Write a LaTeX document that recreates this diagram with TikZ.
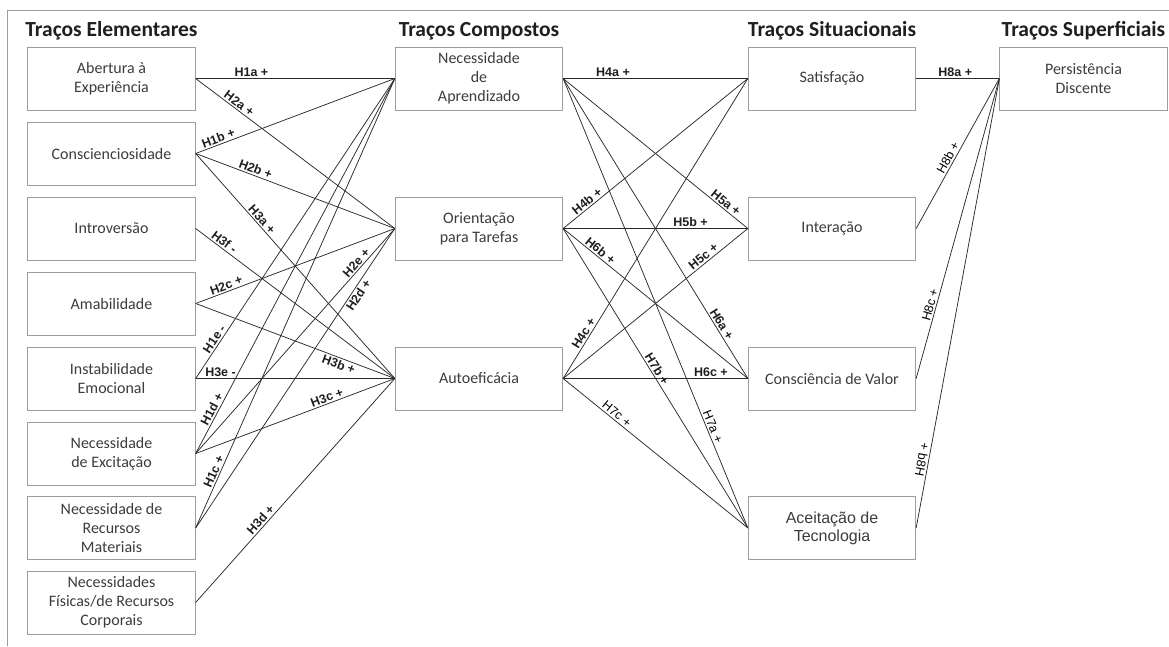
\documentclass[tikz,border=0pt]{standalone}
\usepackage{fontspec}
\setmainfont{Carlito}
\newfontfamily\arialfont{Liberation Sans}
\definecolor{boxgray}{HTML}{9C9C9C}
\definecolor{txtgray}{HTML}{3C3C3C}
\definecolor{linegray}{HTML}{2A2A2A}

\begin{document}
\begin{tikzpicture}[x=1pt, y=-1pt,
	trait/.style={draw=boxgray, line width=0.8pt, minimum width=167.5pt, minimum height=63pt,
		inner sep=2pt, align=center, text=txtgray, font=\fontsize{16}{19}\selectfont},
	head/.style={anchor=base, text=black!88, font=\fontsize{21.5}{25}\selectfont\bfseries},
	link/.style={draw=linegray, line width=0.75pt},
	hl/.style={sloped, above, inner sep=1.5pt, text=black!88,
		font=\arialfont\fontsize{12.5}{14}\selectfont\bfseries},
	hlr/.style={hl, text=black, font=\arialfont\fontsize{12.5}{14}\selectfont}]
	\useasboundingbox (0,0) rectangle (1169,646);

	%边框
	\draw[boxgray, line width=0.8pt] (7,646) -- (7,10) -- (1169,10);

	%标题
	\node[head] (t1) at (111.5,36) {Traços Elementares};
	\node[head] (t2) at (479,36) {Traços Compostos};
	\node[head] (t3) at (832,36) {Traços Situacionais};
	\node[head] (t4) at (1083.5,36) {Traços Superficiais};

	%第一列
	\node[trait] (e1) at (111.5,78.5) {Abertura à\\Experiência};
	\node[trait] (e2) at (111.5,153.5) {Conscienciosidade};
	\node[trait] (e3) at (111.5,228.5) {Introversão};
	\node[trait] (e4) at (111.5,303.5) {Amabilidade};
	\node[trait] (e5) at (111.5,378.5) {Instabilidade\\Emocional};
	\node[trait] (e6) at (111.5,453.5) {Necessidade\\de Excitação};
	\node[trait] (e7) at (111.5,528) {Necessidade de\\Recursos\\Materiais};
	\node[trait] (e8) at (111.5,602.5) {Necessidades\\Físicas/de Recursos\\Corporais};

	%第二列
	\node[trait] (c1) at (479,78.5) {Necessidade\\de\\Aprendizado};
	\node[trait] (c2) at (479,228.5) {Orientação\\para Tarefas};
	\node[trait] (c3) at (479,378.5) {Autoeficácia};

	%第三列
	\node[trait] (s1) at (832,78.5) {Satisfação};
	\node[trait] (s2) at (832,228.5) {Interação};
	\node[trait] (s3) at (832,378.5) {Consciência de Valor};
	\node[trait, font=\arialfont\fontsize{16}{18}\selectfont] (s4) at (832,528) {Aceitação de\\Tecnologia};

	%第四列
	\node[trait] (p1) at (1083.5,78.5) {Persistência\\Discente};

	%第一列到第二列
	\foreach \a/\b/\p/\t in {e1/c1/.28/{H1a +}, e1/c2/.2/{H2a +}, e2/c1/.125/{H1b +},
		e2/c2/.29/{H2b +}, e2/c3/.31/{H3a +}, e3/c3/.125/{H3f -}, e4/c2/.165/{H2c +},
		e5/c1/.12/{H1e -}, e5/c3/.125/{H3e -}, e6/c1/.11/{H1d +}, e6/c2/.83/{H2e +},
		e6/c3/.67/{H3c +}, e7/c1/.12/{H1c +}, e8/c3/.35/{H3d +}}
		\draw[link] (\a.east) -- node[hl, pos=\p] {\t} (\b.west);
	\draw[link] (e4.east) -- node[hl, below, pos=.73] {H3b +} (c3.west);
	\draw[link] (e7.east) -- node[hl, below, pos=.79] {H2d +} (c2.west);

	%第二列到第三列
	\foreach \a/\b/\p/\t in {c1/s1/.27/{H4a +}, c1/s2/.86/{H5a +}, c1/s3/.83/{H6a +},
		c2/s1/.15/{H4b +}, c2/s2/.69/{H5b +}, c2/s3/.18/{H6b +}, c2/s4/.48/{H7b +},
		c3/s1/.14/{H4c +}, c3/s2/.78/{H5c +}, c3/s3/.8/{H6c +}}
		\draw[link] (\a.east) -- node[hl, pos=\p] {\t} (\b.west);
	\draw[link] (c1.east) -- node[hlr, pos=.78] {H7a +} (s4.west);
	\draw[link] (c3.east) -- node[hlr, pos=.27] {H7c +} (s4.west);

	%第三列到第四列
	\draw[link] (s1.east) -- node[hl, pos=.47] {H8a +} (p1.west);
	\draw[link] (s2.east) -- node[hlr, pos=.45] {H8b +} (p1.west);
	\draw[link] (s3.east) -- node[hlr, pos=.24] {H8c +} (p1.west);
	\draw[link] (s4.east) -- node[hlr, pos=.15, below, yscale=-1] {H8d +} (p1.west);

\end{tikzpicture}
\end{document}
